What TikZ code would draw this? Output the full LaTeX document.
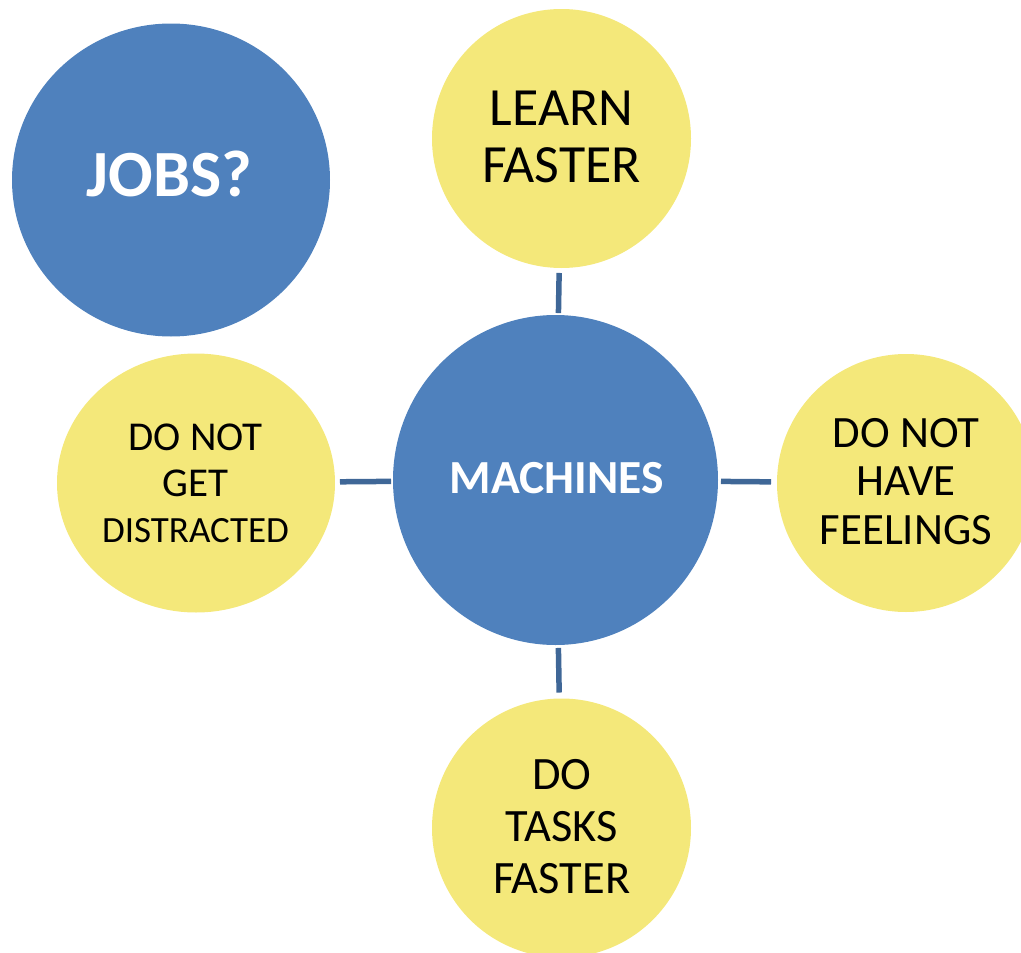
\documentclass[tikz,border=0pt]{standalone}
\usepackage{fontspec}
\setmainfont{Carlito}
\usetikzlibrary{shapes.geometric}
\definecolor{blueF}{HTML}{4F81BD}
\definecolor{yellowF}{HTML}{F4E87A}
\definecolor{linkC}{HTML}{3F6797}
\begin{document}
\begin{tikzpicture}[x=1pt,y=-1pt,
  bluecirc/.style={ellipse, fill=blueF, inner sep=0pt, outer sep=0pt},
  yellowcirc/.style={ellipse, fill=yellowF, inner sep=0pt, outer sep=0pt},
  bluetext/.style={text=white, align=center, inner sep=0pt},
  yellowtext/.style={text=black, align=center, inner sep=0pt},
  link/.style={draw=linkC, line width=5.5pt}]
\useasboundingbox (0,0) rectangle (1021,953);
% circles
\node[bluecirc, minimum width=318pt, minimum height=313pt] (jobs) at (171,180) {};
\node[yellowcirc, minimum width=259pt, minimum height=259pt] (learn) at (561.5,138.5) {};
\node[bluecirc, minimum width=325pt, minimum height=330pt] (machines) at (555.5,480) {};
\node[yellowcirc, minimum width=278pt, minimum height=259pt] (distracted) at (196,483) {};
\node[yellowcirc, minimum width=258pt, minimum height=258pt] (feelings) at (906,483) {};
\node[yellowcirc, minimum width=259pt, minimum height=259pt] (tasks) at (561.5,828) {};
% texts
\node[bluetext, font=\bfseries\fontsize{66}{70}\selectfont] (jobsT) at (169.5,174) {JOBS?};
\node[bluetext, font=\bfseries\fontsize{47.5}{52}\selectfont] (machinesT) at (556.5,478) {MACHINES};
\node[yellowtext, font=\fontsize{53.8}{57.7}\selectfont] (learnT) at (561.5,137) {LEARN\\FASTER};
\node[yellowtext, font=\fontsize{41}{46}\selectfont] (distractedT) at (195.5,483) {DO NOT\\GET\\{\fontsize{37}{42}\selectfont DISTRACTED}};
\node[yellowtext, font=\fontsize{44.8}{48.5}\selectfont] (feelingsT) at (906,481.5) {DO NOT\\HAVE\\FEELINGS};
\node[yellowtext, font=\fontsize{46.4}{52}\selectfont] (tasksT) at (561.7,826.7) {DO\\TASKS\\FASTER};
% connectors
\draw[link, shorten <=5pt, shorten >=2pt] (learn) -- (machines);
\draw[link, shorten <=5pt, shorten >=2pt] (distracted) -- (machines);
\draw[link, shorten <=3pt, shorten >=6pt] (machines) -- (feelings);
\draw[link, shorten <=3pt, shorten >=6pt] (machines) -- (tasks);
\end{tikzpicture}
\end{document}
